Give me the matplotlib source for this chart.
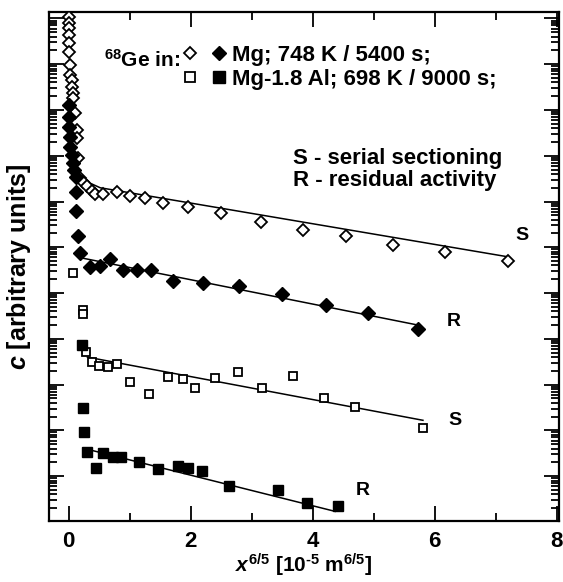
import numpy as np
import matplotlib
matplotlib.use("Agg")
import matplotlib.pyplot as plt
from matplotlib.legend_handler import HandlerTuple
from matplotlib.lines import Line2D
from matplotlib.ticker import LogLocator, NullFormatter, MultipleLocator

plt.rcParams['font.family'] = ['Liberation Sans', 'DejaVu Sans']
plt.rcParams['font.weight'] = 'bold'
plt.rcParams['mathtext.fontset'] = 'custom'
plt.rcParams['mathtext.rm'] = 'Liberation Sans:bold'
plt.rcParams['mathtext.bf'] = 'Liberation Sans:bold'
plt.rcParams['mathtext.it'] = 'Liberation Sans:bold:italic'

# ---- data (x = x^{6/5} in 1e-5 m^{6/5}, values as log10 of c) ----
mg_s_x = [0.0, 0.0, 0.0, 0.0, 0.0, 0.0, 0.03, 0.03, 0.06, 0.06, 0.08, 0.08, 0.11, 0.14,
          0.14, 0.16, 0.19, 0.24, 0.31, 0.39, 0.44, 0.57, 0.80, 1.01, 1.26, 1.55, 1.96,
          2.50, 3.16, 3.85, 4.55, 5.32, 6.17, 7.21]
mg_s_logc = [10.03, 9.90, 9.79, 9.64, 9.47, 9.27, 8.98, 8.77, 8.66, 8.50, 8.37, 8.26, 7.93,
             7.56, 7.39, 6.95, 6.52, 6.43, 6.34, 6.24, 6.17, 6.17, 6.20, 6.11, 6.08, 5.97,
             5.88, 5.75, 5.55, 5.38, 5.24, 5.05, 4.89, 4.70]

mg_r_x = [0.0, 0.0, 0.01, 0.02, 0.03, 0.05, 0.07, 0.09, 0.12, 0.13, 0.12, 0.16, 0.19,
          0.35, 0.52, 0.68, 0.90, 1.12, 1.35, 1.72, 2.20, 2.80, 3.50, 4.22, 4.91, 5.73]
mg_r_logc = [8.11, 7.85, 7.63, 7.41, 7.19, 7.01, 6.84, 6.69, 6.54, 6.21, 5.79, 5.25, 4.87,
             4.57, 4.59, 4.74, 4.50, 4.50, 4.50, 4.26, 4.22, 4.15, 3.98, 3.74, 3.56, 3.21]

al_s_x = [0.08, 0.24, 0.24, 0.29, 0.39, 0.50, 0.65, 0.80, 1.01, 1.32, 1.63, 1.88, 2.08,
          2.40, 2.77, 3.17, 3.68, 4.18, 4.70, 5.81]
al_s_logc = [4.44, 3.63, 3.54, 2.71, 2.49, 2.40, 2.38, 2.45, 2.05, 1.79, 2.16, 2.12, 1.92,
             2.14, 2.27, 1.92, 2.19, 1.70, 1.51, 1.05]

al_r_x = [0.22, 0.24, 0.26, 0.31, 0.45, 0.57, 0.73, 0.86, 1.16, 1.47, 1.80, 1.96, 2.19,
          2.63, 3.44, 3.91, 4.42]
al_r_logc = [2.86, 1.49, 0.96, 0.52, 0.17, 0.50, 0.42, 0.42, 0.31, 0.15, 0.22, 0.17, 0.11,
             -0.22, -0.31, -0.59, -0.66]

# fitted lines
fit_mg_s_x = [0.11, 0.27, 0.52, 1.01, 7.21]
fit_mg_s_logc = [6.64, 6.45, 6.30, 6.19, 4.79]
fit_mg_r_x = [0.24, 5.73]
fit_mg_r_logc = [4.76, 3.30]
fit_al_s_x = [0.31, 5.81]
fit_al_s_logc = [2.60, 1.22]
fit_al_r_x = [0.24, 4.37]
fit_al_r_logc = [0.61, -0.77]

legend_labels = ["Mg; 748 K / 5400 s;", "Mg-1.8 Al; 698 K / 9000 s;"]
curve_labels = ["S", "R", "S", "R"]
curve_label_x = [7.44, 6.31, 6.34, 4.83]
curve_label_logc = [5.25, 3.37, 1.22, -0.31]

c = lambda v: 10 ** np.asarray(v, dtype=float)

fig = plt.figure(figsize=(5.63, 5.82), dpi=100)
ax = fig.add_axes([49 / 563, 1 - 521 / 582, 510 / 563, 509 / 582])
ax.set_yscale('log')

lw = 1.1
ax.plot(fit_mg_s_x, c(fit_mg_s_logc), color='black', lw=lw, zorder=2)
ax.plot(fit_mg_r_x, c(fit_mg_r_logc), color='black', lw=lw, zorder=2)
ax.plot(fit_al_s_x, c(fit_al_s_logc), color='black', lw=lw, zorder=2)
ax.plot(fit_al_r_x, c(fit_al_r_logc), color='black', lw=lw, zorder=2)

ms_do, ms_df = 6.5, 7
ms_so, ms_sf = 6.3, 7
h1, = ax.plot(mg_s_x, c(mg_s_logc), 'D', ms=ms_do, mfc='white', mec='black', mew=1.3, ls='none', zorder=3)
h2, = ax.plot(mg_r_x, c(mg_r_logc), 'D', ms=ms_df, mfc='black', mec='black', mew=1.0, ls='none', zorder=3)
h3, = ax.plot(al_s_x, c(al_s_logc), 's', ms=ms_so, mfc='white', mec='black', mew=1.3, ls='none', zorder=3)
h4, = ax.plot(al_r_x, c(al_r_logc), 's', ms=ms_sf, mfc='black', mec='black', mew=1.0, ls='none', zorder=3)

for lab, lx, ly in zip(curve_labels, curve_label_x, curve_label_logc):
    ax.text(lx, 10 ** ly, lab, fontsize=14, fontweight='bold', ha='center', va='center')

ax.set_xlim(-0.32, 8.04)
ax.set_ylim(10 ** -0.98, 10 ** 10.14)

ax.xaxis.set_major_locator(MultipleLocator(2))
ax.xaxis.set_minor_locator(MultipleLocator(1))
ax.yaxis.set_major_locator(LogLocator(base=10, numticks=20))
ax.yaxis.set_minor_locator(LogLocator(base=10, subs=np.arange(2, 10), numticks=20))
ax.yaxis.set_major_formatter(NullFormatter())
ax.yaxis.set_minor_formatter(NullFormatter())

ax.tick_params(which='both', direction='in', top=True, right=True, width=1.3)
ax.tick_params(which='major', length=11)
ax.tick_params(which='minor', length=5.5)
ax.tick_params(axis='x', labelsize=16, pad=7)
for lbl in ax.get_xticklabels():
    lbl.set_fontweight('bold')
for sp in ax.spines.values():
    sp.set_linewidth(1.6)

ax.set_xlabel('$\\mathit{x}^{6/5}$ [10$^{\\mathrm{\u2010}5}$ m$^{6/5}$]', fontsize=15, fontweight='bold', labelpad=0)
ax.set_ylabel(r'$\mathit{c}$ [arbitrary units]', fontsize=18, fontweight='bold', labelpad=8)

ax.text(0.478, 0.713, 'S - serial sectioning', transform=ax.transAxes, fontsize=16,
        fontweight='bold', ha='left', va='center')
ax.text(0.478, 0.668, 'R - residual activity', transform=ax.transAxes, fontsize=16,
        fontweight='bold', ha='left', va='center')

ax.text(0.257, 0.906, r'$^{68}$Ge in:', transform=ax.transAxes, fontsize=15,
        fontweight='bold', ha='right', va='center')

lh1 = Line2D([], [], marker='D', ms=ms_do, mfc='white', mec='black', mew=1.3, ls='none')
lh2 = Line2D([], [], marker='D', ms=ms_df, mfc='black', mec='black', mew=1.0, ls='none')
lh3 = Line2D([], [], marker='s', ms=ms_so + 1.5, mfc='white', mec='black', mew=1.3, ls='none')
lh4 = Line2D([], [], marker='s', ms=ms_sf + 1.5, mfc='black', mec='black', mew=1.0, ls='none')
leg = ax.legend([(lh1, lh2), (lh3, lh4)], legend_labels,
                handler_map={tuple: HandlerTuple(ndivide=None, pad=0.62)},
                loc='center left', bbox_to_anchor=(0.262, 0.891), frameon=False,
                handlelength=2.0, handletextpad=0.2, borderpad=0,
                borderaxespad=0, labelspacing=0.15, prop={'weight': 'bold', 'size': 16})

fig.savefig('out.png', dpi=100)
